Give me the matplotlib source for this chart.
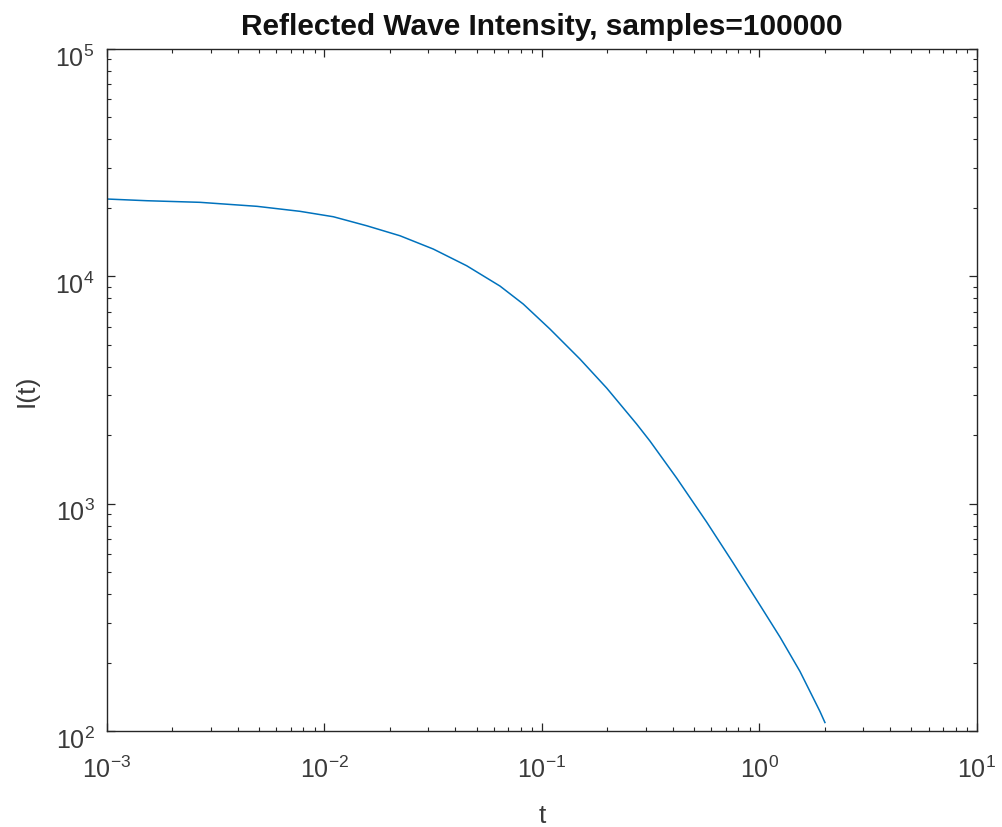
import matplotlib
matplotlib.use("Agg")
import matplotlib.pyplot as plt
from matplotlib.transforms import ScaledTranslation

# values (log-log curve)
t = [0.001, 0.001527, 0.002676, 0.004894, 0.007717, 0.01098, 0.01563,
     0.02224, 0.03164, 0.04506, 0.0641, 0.08203, 0.1088, 0.1495, 0.1984,
     0.2725, 0.3137, 0.4162, 0.5718, 0.7577, 1.005, 1.243, 1.535, 1.897, 2.0]
intensity = [21885, 21510, 21165, 20324, 19320, 18290, 16695,
             15085, 13185, 11133, 9064, 7553, 5865, 4327, 3226,
             2240, 1886, 1296, 830, 548, 358, 259, 183, 122, 109]

title = "Reflected Wave Intensity, samples=100000"

plt.rcParams['font.family'] = ['Liberation Sans', 'DejaVu Sans']
plt.rcParams['mathtext.fontset'] = 'custom'
plt.rcParams['mathtext.rm'] = 'Liberation Sans'
plt.rcParams['mathtext.it'] = 'Liberation Sans'
plt.rcParams['mathtext.default'] = 'regular'


def plotting():
    fig = plt.figure(figsize=(10.02, 8.28), dpi=100)
    ax = fig.add_axes([0.1068, 0.1159, 0.8682, 0.8237])
    ax.loglog(t, intensity, color='#0072BD', lw=1.1)
    ax.set_xlim(1e-3, 1e1)
    ax.set_ylim(1e2, 1e5)

    for s in ax.spines.values():
        s.set_color('#262626')
        s.set_linewidth(1.0)
    ax.tick_params(which='both', direction='in', top=True, right=True,
                   colors='#262626', labelcolor='#3a3a3a', labelsize=18)
    ax.tick_params(which='major', length=6, width=0.9)
    ax.tick_params(which='minor', length=3, width=0.8)
    ax.tick_params(axis='x', which='major', pad=18)
    ax.tick_params(axis='y', which='major', pad=9)

    ax.set_xlabel("t", fontsize=19, color='#3a3a3a', labelpad=15)
    ax.set_ylabel("I(t)", fontsize=19, color='#3a3a3a', labelpad=12)
    ax.set_title(title, fontsize=21.5, fontweight='bold', color='#111111', pad=11)

    # matlab puts the y labels a bit lower
    shift = ScaledTranslation(0, -6/100, fig.dpi_scale_trans)
    for lab in ax.get_yticklabels():
        lab.set_transform(lab.get_transform() + shift)

    fig.savefig("out.png", dpi=100)


if __name__ == "__main__":
    plotting()
